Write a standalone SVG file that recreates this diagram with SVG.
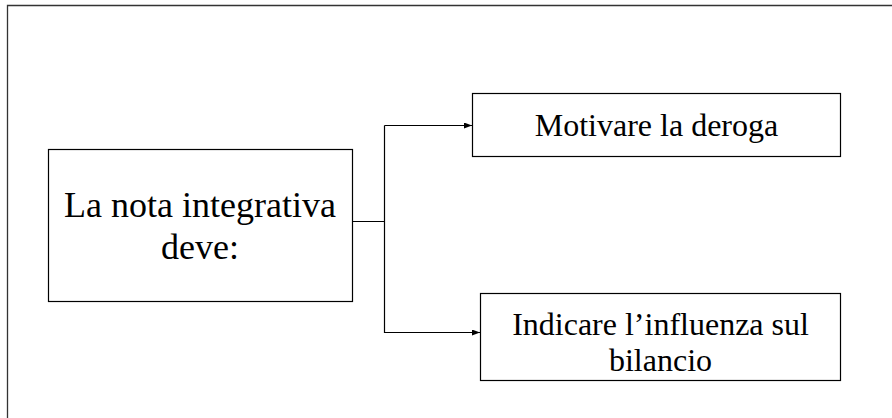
<svg xmlns="http://www.w3.org/2000/svg" width="892" height="418" viewBox="0 0 892 418">
<style>
.box{fill:#fff;stroke:#000;stroke-width:1.2}
.t{font-family:"Liberation Serif","Times New Roman",serif;fill:#000;text-anchor:middle}
.c{fill:none;stroke:#000;stroke-width:1.2}
</style>
<defs>
<marker id="ah" viewBox="0 0 8 6" refX="8" refY="3" markerWidth="8" markerHeight="6" markerUnits="userSpaceOnUse" orient="auto">
<path d="M0,0 L8,3 L0,6 Z" fill="#000"/>
</marker>
</defs>
<rect width="892" height="418" fill="#fff"/>
<path d="M7.5,418 V5.5 H892" fill="none" stroke="#333" stroke-width="1.3"/>
<g id="connectors">
<path class="c" d="M352,221.5 H384.5"/>
<path class="c" d="M384.5,125.5 V333" />
<path class="c" d="M384.5,125.5 H472" marker-end="url(#ah)"/>
<path class="c" d="M384.5,332.5 H480" marker-end="url(#ah)"/>
</g>
<g id="node-nota">
<rect class="box" x="48.5" y="149.5" width="304" height="152"/>
<text class="t" font-size="36" x="200" y="217">La nota integrativa</text>
<text class="t" font-size="36" x="200" y="259">deve:</text>
</g>
<g id="node-motivare">
<rect class="box" x="472.5" y="93.5" width="368" height="63"/>
<text class="t" font-size="32" x="656.5" y="136">Motivare la deroga</text>
</g>
<g id="node-indicare">
<rect class="box" x="480.5" y="293.5" width="360" height="87"/>
<text class="t" font-size="32" x="660.5" y="335">Indicare l’influenza sul</text>
<text class="t" font-size="32" x="660.5" y="371">bilancio</text>
</g>
</svg>
